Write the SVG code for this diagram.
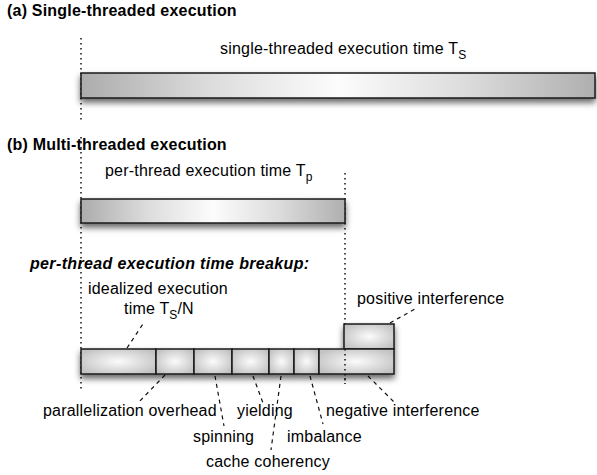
<svg xmlns="http://www.w3.org/2000/svg" width="597" height="475" viewBox="0 0 597 475">
<defs>
<style>
text{font-family:"Liberation Sans",Arial,Helvetica,sans-serif;fill:#000;}
.lbl{font-size:16px;letter-spacing:0.2px;}
.ttl{font-size:16px;font-weight:bold;letter-spacing:0.2px;}
.bi{font-size:16px;font-weight:bold;font-style:italic;letter-spacing:0.35px;}
.sub{font-size:12px;letter-spacing:0;}
.bar{fill:url(#lg);stroke:#1a1a1a;stroke-width:1.5;filter:url(#sh);}
.box{fill:url(#rg);stroke:#1a1a1a;stroke-width:1.5;}
.dash{fill:none;stroke:#111;stroke-width:1.2;stroke-dasharray:4 4;}
.dot{fill:none;stroke:#111;stroke-width:1.5;stroke-dasharray:1.5 3.5;}
</style>
<linearGradient id="lg" x1="0" y1="0" x2="1" y2="0">
<stop offset="0" stop-color="#acacac"/>
<stop offset="0.25" stop-color="#dcdcdc"/>
<stop offset="0.5" stop-color="#fcfcfc"/>
<stop offset="0.75" stop-color="#dcdcdc"/>
<stop offset="1" stop-color="#afafaf"/>
</linearGradient>
<radialGradient id="rg" cx="0.5" cy="0.5" r="0.6">
<stop offset="0" stop-color="#fbfbfb"/>
<stop offset="1" stop-color="#c2c2c2"/>
</radialGradient>
<filter id="sh" x="-10%" y="-40%" width="120%" height="200%">
<feDropShadow dx="0" dy="4" stdDeviation="3" flood-color="#000" flood-opacity="0.6"/>
</filter>
</defs>
<text class="ttl" x="7" y="16">(a) Single-threaded execution</text>
<text class="ttl" x="7" y="150">(b) Multi-threaded execution</text>
<text class="bi" x="30" y="269">per-thread execution time breakup:</text>
<g id="connectors">
<line class="dot" x1="81" y1="38" x2="81" y2="120"/>
<line class="dot" x1="81" y1="137" x2="81" y2="389"/>
<line class="dot" x1="345" y1="173" x2="345" y2="384"/>
<line class="dash" x1="127" y1="348" x2="143" y2="324"/>
<line class="dash" x1="390" y1="323" x2="415" y2="309"/>
<line class="dash" x1="165" y1="375" x2="138" y2="403"/>
<line class="dash" x1="215" y1="376" x2="224" y2="426"/>
<line class="dash" x1="253" y1="376" x2="263" y2="403"/>
<line class="dash" x1="281" y1="376" x2="271" y2="450"/>
<line class="dash" x1="310" y1="376" x2="323" y2="424"/>
<line class="dash" x1="368" y1="376" x2="396" y2="404"/>
</g>
<g id="single-bar">
<rect class="bar" x="81" y="73" width="514" height="25"/>
<text class="lbl" x="220" y="54">single-threaded execution time T<tspan class="sub" dy="5">S</tspan></text>
</g>
<g id="multi-bar">
<rect class="bar" x="81" y="199" width="264" height="24"/>
<text class="lbl" x="105" y="176">per-thread execution time T<tspan class="sub" dy="5">p</tspan></text>
</g>
<g id="breakup" filter="url(#sh)">
<rect class="box" x="344" y="324" width="50" height="25"/>
<rect class="box" x="81" y="349" width="75" height="25"/>
<rect class="box" x="156" y="349" width="38" height="25"/>
<rect class="box" x="194" y="349" width="38" height="25"/>
<rect class="box" x="232" y="349" width="37" height="25"/>
<rect class="box" x="269" y="349" width="25" height="25"/>
<rect class="box" x="294" y="349" width="25" height="25"/>
<rect class="box" x="319" y="349" width="75" height="25"/>
</g>
<line class="dot" x1="345" y1="349" x2="345" y2="384"/>
<g id="idealized">
<text class="lbl" x="88" y="294">idealized execution</text>
<text class="lbl" x="124" y="314">time T<tspan class="sub" dy="5">S</tspan><tspan dy="-5">/N</tspan></text>
</g>
<g id="positive"><text class="lbl" x="357" y="304">positive interference</text></g>
<g id="parallel"><text class="lbl" x="43" y="416">parallelization overhead</text></g>
<g id="yielding"><text class="lbl" x="237" y="416">yielding</text></g>
<g id="negative"><text class="lbl" x="326" y="416">negative interference</text></g>
<g id="spinning"><text class="lbl" x="193" y="442">spinning</text></g>
<g id="imbalance"><text class="lbl" x="287" y="442">imbalance</text></g>
<g id="cache"><text class="lbl" x="206" y="467">cache coherency</text></g>
</svg>
